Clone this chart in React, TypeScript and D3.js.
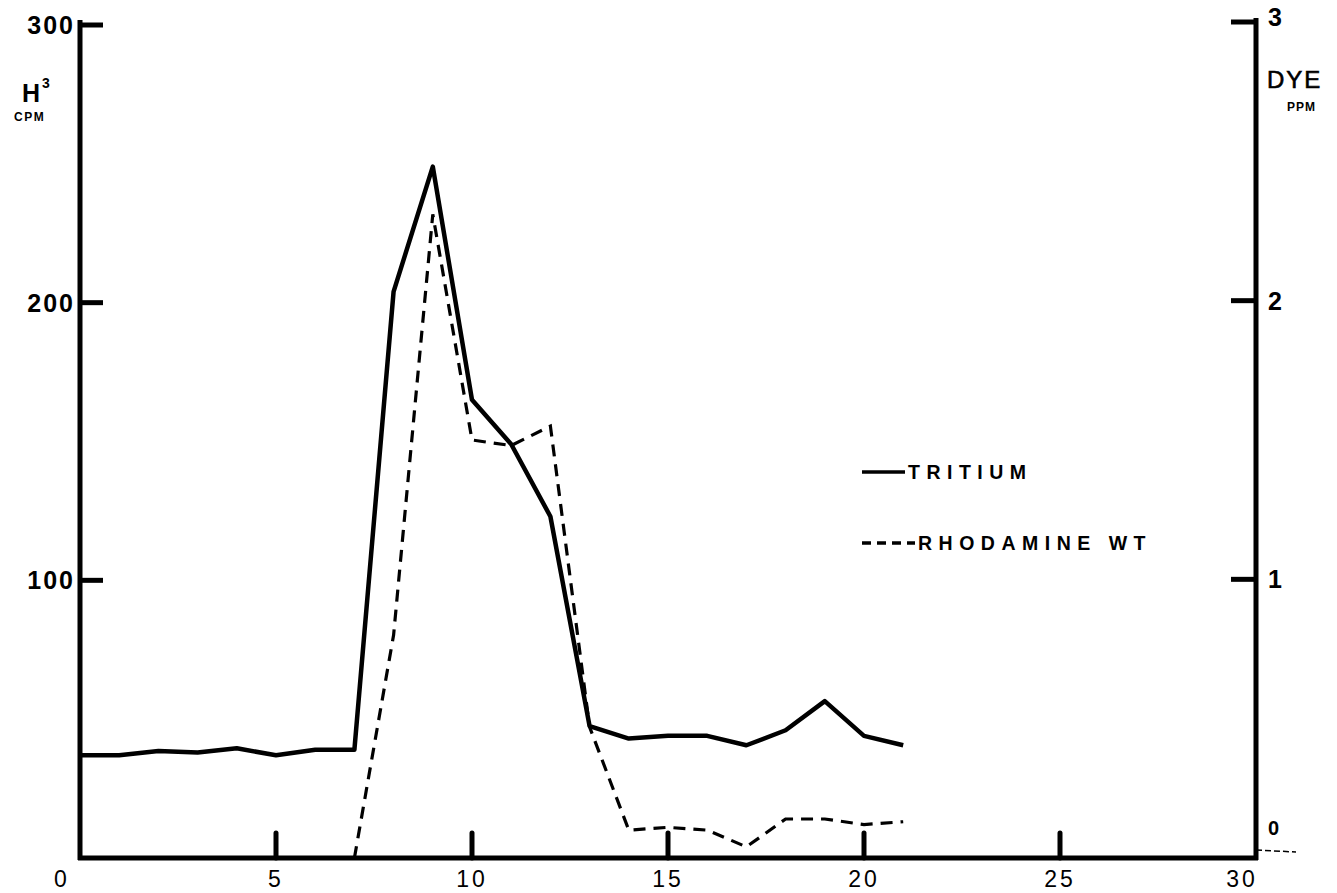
import React from "react";
import * as d3 from "d3";

const tritiumX = [0, 1, 2, 3, 4, 5, 6, 7, 8, 9, 10, 11, 12, 13, 14, 15, 16, 17, 18, 19, 20, 21];
const tritiumCPM = [37, 37, 38.5, 38, 39.5, 37, 39, 39, 204, 249, 165, 149, 123, 47.5, 43, 44, 44, 40.6, 46, 56.5, 44, 40.6];

const dyeX = [7, 8, 9, 10, 11, 12, 13, 14, 15, 16, 17, 18, 19, 20, 21];
const dyePPM = [0, 0.8, 2.31, 1.5, 1.48, 1.55, 0.47, 0.1, 0.11, 0.1, 0.04, 0.14, 0.14, 0.12, 0.13];

const xTicks = [0, 5, 10, 15, 20, 25, 30];
const leftTicks = [0, 100, 200, 300];
const rightTicks = [0, 1, 2, 3];

export default function App() {
  const W = 1337, H = 893;
  const x = d3.scaleLinear().domain([0, 30]).range([80, 1256]);
  const yL = d3.scaleLinear().domain([0, 300]).range([858, 25]);
  const yR = d3.scaleLinear().domain([0, 3]).range([858, 22]);
  const y0 = 858;

  const lineT = d3.line<number>().x((_, i) => x(tritiumX[i])).y((d) => yL(d));
  const lineD = d3.line<number>().x((_, i) => x(dyeX[i])).y((d) => yR(d));

  const font = "'Liberation Sans', Arial, sans-serif";

  return (
    <svg width={W} height={H} style={{ position: "absolute", left: 0, top: 0, background: "#fff" }}>
      <rect width={W} height={H} fill="#fff" />
      {/* axes */}
      <line x1={x(0)} x2={x(0)} y1={20} y2={y0 + 2} stroke="#000" strokeWidth={5} />
      <line x1={x(30)} x2={x(30)} y1={18} y2={y0 + 2} stroke="#000" strokeWidth={5} />
      <line x1={x(0) - 2} x2={x(30) + 2} y1={y0} y2={y0} stroke="#000" strokeWidth={5} />
      <line x1={x(30)} x2={x(30) + 40} y1={y0 - 8} y2={y0 - 6} stroke="#000" strokeWidth={1.5} strokeDasharray="6,3" />

      {/* left ticks */}
      {leftTicks.filter((t) => t > 0).map((t) => (
        <g key={"l" + t}>
          <line x1={x(0)} x2={x(0) + 23} y1={yL(t)} y2={yL(t)} stroke="#000" strokeWidth={5} />
          <text x={x(0) - 5} y={yL(t)} textAnchor="end" dominantBaseline="central" fontFamily={font} fontWeight="bold" fontSize={25} letterSpacing={2}>{t}</text>
        </g>
      ))}
      {/* right ticks */}
      {rightTicks.map((t) => (
        <g key={"r" + t}>
          {t > 0 && <line x1={x(30)} x2={x(30) - 25} y1={yR(t)} y2={yR(t)} stroke="#000" strokeWidth={5} />}
          <text x={x(30) + 12} y={t === 0 ? yR(t) - 30 : t === 3 ? yR(t) - 5 : yR(t)} dominantBaseline="central" fontFamily={font} fontWeight="bold" fontSize={t === 0 ? 20 : 25}>{t}</text>
        </g>
      ))}
      {/* x ticks */}
      {xTicks.map((t) => (
        <g key={"x" + t}>
          {t > 0 && t < 30 && <line x1={x(t)} x2={x(t)} y1={y0} y2={y0 - 25} stroke="#000" strokeWidth={5} strokeLinecap="round" />}
          <text x={t === 0 ? x(t) - 18 : x(t) - (t === 30 ? 14 : 0)} y={879} textAnchor="middle" dominantBaseline="central" fontFamily={font} fontSize={23} letterSpacing={3}>{t}</text>
        </g>
      ))}

      {/* axis titles */}
      <text x={22} y={102} fontFamily={font} fontWeight="bold" fontSize={25}>H</text>
      <text x={42} y={88} fontFamily={font} fontWeight="bold" fontSize={14}>3</text>
      <text x={14} y={121} fontFamily={font} fontWeight="bold" fontSize={12} letterSpacing={1.5}>CPM</text>
      <text x={1267} y={88} fontFamily={font} fontSize={24} letterSpacing={2} stroke="#000" strokeWidth={0.6}>DYE</text>
      <text x={1287} y={111} fontFamily={font} fontWeight="bold" fontSize={12} letterSpacing={1}>PPM</text>

      {/* data */}
      <path d={lineT(tritiumCPM) || ""} fill="none" stroke="#000" strokeWidth={4.5} strokeLinejoin="round" />
      <path d={lineD(dyePPM) || ""} fill="none" stroke="#000" strokeWidth={3.2} strokeDasharray="12,8" />

      {/* legend */}
      <line x1={862} x2={905} y1={472} y2={472} stroke="#000" strokeWidth={3.5} />
      <text x={908} y={472} dominantBaseline="central" fontFamily={font} fontWeight="bold" fontSize={19.5} letterSpacing={6.5}>TRITIUM</text>
      <line x1={862} x2={915} y1={543} y2={543} stroke="#000" strokeWidth={3.5} strokeDasharray="9,6" />
      <text x={918} y={543} dominantBaseline="central" fontFamily={font} fontWeight="bold" fontSize={19.5} letterSpacing={6.5}>RHODAMINE WT</text>
    </svg>
  );
}
